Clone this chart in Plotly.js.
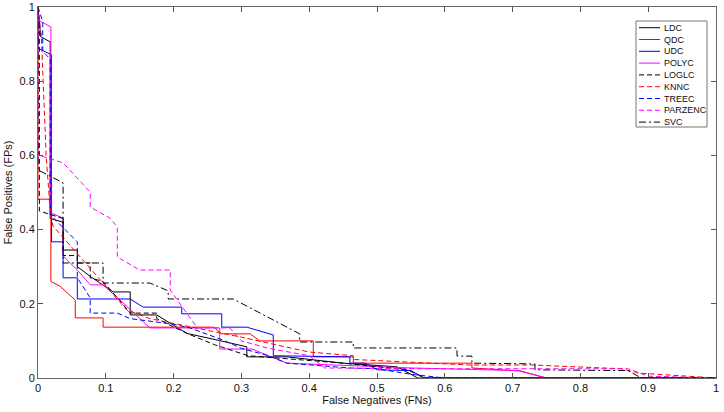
<!DOCTYPE html>
<html>
<head>
<meta charset="utf-8">
<script src="https://cdn.plot.ly/plotly-3.0.1.min.js"></script>
<style>html,body{margin:0;padding:0;background:#fff;}#chart{width:724px;height:412px;}</style>
</head>
<body>
<div id="chart"></div>
<script>
// ---- data (False Negatives = x, False Positives = y) ----
const seriesNames = ["LDC","QDC","UDC","POLYC","LOGLC","KNNC","TREEC","PARZENC","SVC"];

const ldcFN = [0,0.004,0.018,0.018,0.037,0.037,0.058,0.058,0.08,0.111,0.136,0.136,0.175,0.22,0.27,0.308,0.308,0.367,0.45,0.53,0.56,1];
const ldcFP = [1,0.92,0.906,0.43,0.42,0.345,0.345,0.30,0.27,0.232,0.232,0.17,0.17,0.12,0.10,0.084,0.057,0.057,0.04,0.03,0,0];

const qdcFN = [0,0,0.019,0.019,0.032,0.055,0.055,0.096,0.096,0.26,0.27,0.313,0.327,0.406,0.406,0.465,0.465,0.64,0.64,0.71,0.75,1];
const qdcFP = [1,0.482,0.482,0.26,0.248,0.21,0.162,0.162,0.137,0.137,0.119,0.119,0.10,0.10,0.057,0.057,0.04,0.04,0.027,0.019,0,0];

const udcFN = [0,0,0.02,0.02,0.037,0.037,0.058,0.058,0.136,0.155,0.212,0.212,0.271,0.271,0.308,0.347,0.347,0.46,0.46,0.482,0.501,0.55,0.57,1];
const udcFP = [1,0.889,0.871,0.367,0.367,0.27,0.27,0.213,0.213,0.191,0.191,0.173,0.173,0.137,0.137,0.116,0.06,0.057,0.04,0.04,0.022,0.02,0,0];

const polycFN = [0,0,0.019,0.019,0.037,0.037,0.058,0.077,0.096,0.121,0.165,0.268,0.268,0.316,0.367,0.45,0.55,0.71,0.75,1];
const polycFP = [1,0.965,0.946,0.445,0.431,0.329,0.291,0.251,0.251,0.21,0.135,0.135,0.078,0.078,0.04,0.035,0.027,0.02,0,0];

const loglcFN = [0,0.002,0.002,0.037,0.037,0.058,0.058,0.077,0.077,0.096,0.12,0.136,0.175,0.175,0.22,0.26,0.31,0.45,0.545,0.57,1];
const loglcFP = [1,0.95,0.45,0.43,0.33,0.33,0.31,0.31,0.27,0.26,0.21,0.175,0.175,0.16,0.12,0.09,0.06,0.04,0.022,0,0];

const knncFN = [0,0.005,0.012,0.018,0.022,0.131,0.165,0.22,0.30,0.40,0.465,0.465,0.637,0.73,0.86,0.888,1];
const knncFP = [1,0.92,0.60,0.45,0.41,0.183,0.16,0.14,0.11,0.07,0.06,0.05,0.035,0.035,0.025,0.013,0];

const treecFN = [0,0.007,0.007,0.018,0.018,0.058,0.058,0.077,0.077,0.117,0.136,0.20,0.224,0.273,0.30,0.34,0.367,0.46,0.50,0.55,0.60,1];
const treecFP = [1,0.96,0.88,0.86,0.44,0.367,0.27,0.216,0.175,0.175,0.16,0.145,0.135,0.102,0.08,0.06,0.04,0.027,0.025,0.01,0,0];

const parzencFN = [0,0,0.037,0.058,0.077,0.077,0.106,0.117,0.117,0.15,0.195,0.195,0.235,0.283,0.30,0.34,0.40,0.423,0.57,0.87,0.90,1];
const parzencFP = [1,0.601,0.58,0.539,0.501,0.461,0.431,0.407,0.326,0.291,0.291,0.237,0.135,0.135,0.10,0.08,0.06,0.027,0.025,0.025,0.005,0];

const svcFN = [0,0,0.037,0.037,0.096,0.096,0.165,0.192,0.192,0.288,0.386,0.386,0.465,0.465,0.618,0.618,0.64,0.64,0.733,0.733,0.87,0.89,1];
const svcFP = [1,0.561,0.526,0.31,0.31,0.256,0.256,0.235,0.213,0.213,0.119,0.097,0.097,0.081,0.081,0.059,0.059,0.04,0.038,0.022,0.02,0,0];

const xTicks = [0,0.1,0.2,0.3,0.4,0.5,0.6,0.7,0.8,0.9,1];
const xTickText = ["0","0.1","0.2","0.3","0.4","0.5","0.6","0.7","0.8","0.9","1"];
const yTicks = [0,0.2,0.4,0.6,0.8,1];
const yTickText = ["0","0.2","0.4","0.6","0.8","1"];

// ---- styles ----
const DASH = "5px,3px";
const DASHDOT = "7px,3px,2px,3px";
const styles = [
  {color:"#000000", dash:"solid"},
  {color:"#ff0000", dash:"solid"},
  {color:"#0000ff", dash:"solid"},
  {color:"#ff00ff", dash:"solid"},
  {color:"#000000", dash:DASH},
  {color:"#ff0000", dash:DASH},
  {color:"#0000ff", dash:DASH},
  {color:"#ff00ff", dash:DASH},
  {color:"#000000", dash:DASHDOT}
];
const xs = [ldcFN,qdcFN,udcFN,polycFN,loglcFN,knncFN,treecFN,parzencFN,svcFN];
const ys = [ldcFP,qdcFP,udcFP,polycFP,loglcFP,knncFP,treecFP,parzencFP,svcFP];

const traces = seriesNames.map((n,i)=>({
  type:"scatter", mode:"lines", name:n,
  x: xs[i], y: ys[i],
  line:{color:styles[i].color, width:1, dash:styles[i].dash},
  showlegend:false, hoverinfo:"skip"
}));

// ---- custom compact legend (MATLAB-like) ----
const L = 38, R = 716, T = 7, B = 378;
const px2x = p => (p - L)/(R - L);
const py2y = p => (B - p)/(B - T);
const shapes = [{
  type:"rect", xref:"paper", yref:"paper",
  x0:px2x(636), x1:px2x(707), y0:py2y(127), y1:py2y(21),
  line:{color:"#777", width:1}, fillcolor:"#ffffff", layer:"above"
}];
const annotations = [];
seriesNames.forEach((n,i)=>{
  const yc = 27.7 + i*11.8;
  shapes.push({type:"line", xref:"paper", yref:"paper",
    x0:px2x(639), x1:px2x(660), y0:py2y(yc), y1:py2y(yc),
    line:{color:styles[i].color, width:1, dash:styles[i].dash}, layer:"above"});
  annotations.push({xref:"paper", yref:"paper", x:px2x(662), y:py2y(yc),
    xanchor:"left", yanchor:"middle", text:n, showarrow:false,
    font:{family:"Liberation Sans, Arial, sans-serif", size:9, color:"#111"}});
});

const axisFont = {family:"Liberation Sans, Arial, sans-serif", size:11, color:"#111"};
const layout = {
  width:724, height:412,
  margin:{l:L, r:724-R, t:T, b:412-B, pad:0},
  paper_bgcolor:"#fff", plot_bgcolor:"#fff",
  showlegend:false,
  xaxis:{range:[0,1], tickvals:xTicks, ticktext:xTickText, ticks:"inside", ticklen:5,
    tickcolor:"#555", showline:true, linecolor:"#666", linewidth:1, mirror:"ticks",
    showgrid:false, zeroline:false, tickfont:axisFont, automargin:false,
    title:{text:"False Negatives (FNs)", font:axisFont, standoff:2}},
  yaxis:{range:[0,1], tickvals:yTicks, ticktext:yTickText, ticks:"inside", ticklen:5,
    tickcolor:"#555", showline:true, linecolor:"#666", linewidth:1, mirror:"ticks",
    showgrid:false, zeroline:false, tickfont:axisFont, automargin:false,
    title:{text:"False Positives (FPs)", font:axisFont, standoff:4}},
  shapes:shapes, annotations:annotations
};
Plotly.newPlot("chart", traces, layout, {staticPlot:true, displayModeBar:false});
</script>
</body>
</html>
